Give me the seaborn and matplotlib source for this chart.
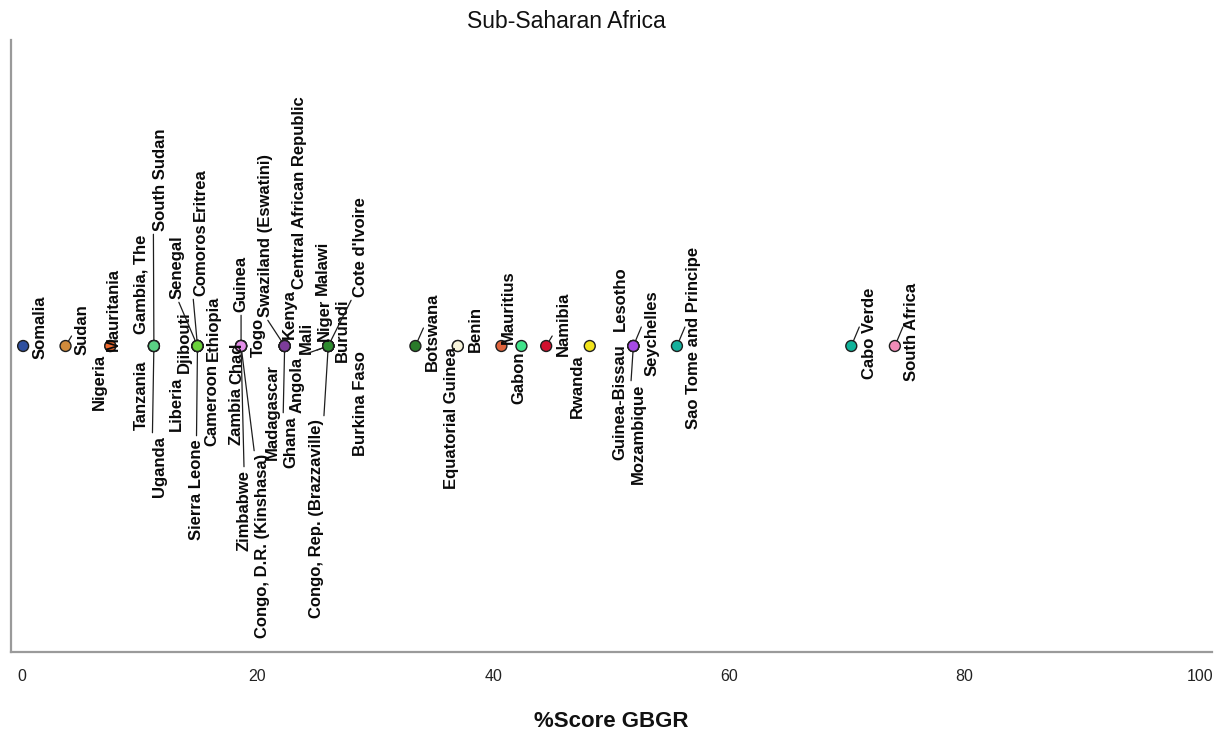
import matplotlib
matplotlib.use("Agg")
import numpy as np
import pandas as pd
import seaborn as sns
import matplotlib.pyplot as plt

# data
countries = [
    "Somalia", "Sudan", "Mauritania", "Nigeria",
    "Tanzania", "Gambia, The", "South Sudan", "Uganda",
    "Liberia", "Djibouti", "Senegal", "Comoros", "Eritrea", "Ethiopia",
    "Cameroon", "Sierra Leone",
    "Guinea", "Togo", "Chad", "Zambia", "Zimbabwe", "Congo, D.R. (Kinshasa)",
    "Kenya", "Swaziland (Eswatini)", "Madagascar", "Ghana", "Central African Republic",
    "Niger", "Malawi", "Mali", "Angola", "Burundi", "Cote d'Ivoire",
    "Congo, Rep. (Brazzaville)", "Burkina Faso",
    "Botswana", "Equatorial Guinea", "Benin", "Mauritius", "Gabon", "Namibia",
    "Rwanda", "Guinea-Bissau", "Lesotho", "Mozambique", "Seychelles",
    "Sao Tome and Principe", "Cabo Verde", "South Africa",
]
scores = [
    0.1, 3.7, 7.5, 7.5,
    11.2, 11.2, 11.2, 11.2,
    14.9, 14.9, 14.9, 14.9, 14.9, 14.9,
    14.9, 14.9,
    18.6, 18.6, 18.6, 18.6, 18.6, 18.6,
    22.3, 22.3, 22.3, 22.3, 22.3,
    26.0, 26.0, 26.0, 26.0, 26.0, 26.0,
    26.0, 26.0,
    33.4, 37.0, 37.0, 40.7, 42.4, 44.5,
    48.2, 51.9, 51.9, 51.9, 51.9,
    55.6, 70.4, 74.1,
]
tick_values = [0, 20, 40, 60, 80, 100]

# marker colours, one per distinct score
score_colors = {
    0.1: "#2f4f9f", 3.7: "#d08b3c", 7.5: "#f26a2e", 11.2: "#5ad184",
    14.9: "#6ad13a", 18.6: "#e38ee8", 22.3: "#7c3c9a", 26.0: "#2e8b2e",
    33.4: "#2a7a2a", 37.0: "#f8f5dc", 40.7: "#e0633c", 42.4: "#40e38a",
    44.5: "#d1112e", 48.2: "#f2e41c", 51.9: "#a64ae6", 55.6: "#14b09c",
    70.4: "#10b39a", 74.1: "#f28cb8",
}

# label placement: (dx px, dy px, vertical anchor, leader relpos or None)
label_layout = {
    "Somalia": (17, -13, "bottom", None),
    "Sudan": (16, -9, "bottom", None),
    "Mauritania": (3, -5, "bottom", None),
    "Nigeria": (-11, -8, "top", None),
    "Tanzania": (-13, -15, "top", None),
    "Gambia, The": (-13, 12, "bottom", None),
    "South Sudan": (7, 115, "bottom", (0, 0)),
    "Uganda": (6, -90, "top", (0, 1)),
    "Liberia": (-21, -31, "top", None),
    "Djibouti": (-13, -27, "bottom", None),
    "Senegal": (-20, 47, "bottom", (0.5, 0)),
    "Comoros": (3, 50, "bottom", (0, 0)),
    "Eritrea": (3, 125, "bottom", None),
    "Ethiopia": (16, -15, "bottom", None),
    "Cameroon": (14, -18, "top", None),
    "Sierra Leone": (-1, -93, "top", (0.5, 1)),
    "Guinea": (0, 34, "bottom", (0.5, 0)),
    "Togo": (17, -11, "bottom", None),
    "Chad": (-4, 3, "top", None),
    "Zambia": (-5, -41, "top", None),
    "Zimbabwe": (3, -124, "top", (0.5, 1)),
    "Congo, D.R. (Kinshasa)": (21, -108, "top", (0, 1)),
    "Kenya": (5, 7, "bottom", None),
    "Swaziland (Eswatini)": (-19, 29, "bottom", (0.5, 0)),
    "Madagascar": (-12, -18, "top", None),
    "Ghana": (6, -70, "top", (0, 1)),
    "Central African Republic": (15, 57, "bottom", None),
    "Niger": (-4, 5, "bottom", None),
    "Malawi": (-6, 51, "bottom", None),
    "Mali": (-22, -8, "bottom", (0.5, 0)),
    "Angola": (-31, -11, "top", (0.5, 1)),
    "Burundi": (14, -16, "bottom", None),
    "Cote d'Ivoire": (32, 49, "bottom", (0, 0)),
    "Congo, Rep. (Brazzaville)": (-12, -73, "top", (1, 1)),
    "Burkina Faso": (32, -5, "top", None),
    "Botswana": (17, -25, "bottom", None),
    "Equatorial Guinea": (-6, -1, "top", None),
    "Benin": (18, -6, "bottom", None),
    "Mauritius": (7, 2, "bottom", None),
    "Gabon": (-3, -5, "top", None),
    "Namibia": (17, -10, "bottom", None),
    "Rwanda": (-12, -8, "top", None),
    "Guinea-Bissau": (-13, 2, "top", None),
    "Lesotho": (-13, 15, "bottom", None),
    "Mozambique": (5, -38, "top", (0, 1)),
    "Seychelles": (19, -30, "bottom", None),
    "Sao Tome and Principe": (17, -83, "bottom", None),
    "Cabo Verde": (18, -33, "bottom", None),
    "South Africa": (17, -35, "bottom", None),
}
# short tick marks next to some points, end offset in px
tick_marks = {
    "Sudan": (6, 10), "Botswana": (8, 18), "Namibia": (6, 10),
    "Lesotho": (8, 19), "Sao Tome and Principe": (8, 19),
    "Cabo Verde": (8, 19), "South Africa": (8, 19),
}

df = pd.DataFrame({"country": countries, "score": scores})
df["row"] = 0.0

sns.set_style("white")
plt.rcParams["font.family"] = ["Liberation Sans", "DejaVu Sans"]

fig = plt.figure(figsize=(12.19, 7.34), dpi=100)
ax = fig.add_axes([11 / 1219, 82 / 734, 1201 / 1219, 612 / 734])

sns.scatterplot(data=df, x="score", y="row", hue="score", palette=score_colors,
                s=62, edgecolor="#1e1e1e", linewidth=1.0, legend=False,
                zorder=3, ax=ax)

for name, score in zip(countries, scores):
    dx, dy, va, rel = label_layout[name]
    props = None
    if rel is not None:
        props = dict(arrowstyle="-", color="#1e1e1e", lw=0.9,
                     shrinkA=0, shrinkB=4, relpos=rel)
    ax.annotate(name, xy=(score, 0), xytext=(dx, dy), textcoords="offset pixels",
                rotation=90, ha="center", va=va, fontsize=12, fontweight="bold",
                color="#0a0a0a", arrowprops=props, zorder=4)

for name, (ex, ey) in tick_marks.items():
    score = scores[countries.index(name)]
    ax.annotate("", xy=(score, 0), xytext=(ex, ey), textcoords="offset pixels",
                arrowprops=dict(arrowstyle="-", color="#1e1e1e", lw=0.9,
                                shrinkA=0, shrinkB=3.5), zorder=2)

ax.set_xlim(-0.93, 101.02)
ax.set_ylim(-1, 1)
ax.set_yticks([])
ax.set_xticks(tick_values)
ax.set_xticklabels([str(t) for t in tick_values], fontsize=11.5)
ax.tick_params(axis="x", length=0, pad=12, colors="#222222")
ax.set_ylabel("")
ax.set_xlabel("%Score GBGR", fontsize=16, fontweight="bold", labelpad=20,
              color="#111111")

for side in ["top", "right"]:
    ax.spines[side].set_visible(False)
for side in ["left", "bottom"]:
    ax.spines[side].set_color("#9a9a9a")
    ax.spines[side].set_linewidth(1.6)

fig.text(566 / 1219, 1 - 22 / 734, "Sub-Saharan Africa", ha="center", va="center",
         fontsize=16.5, color="#111111")

fig.savefig("out.png", dpi=100)
